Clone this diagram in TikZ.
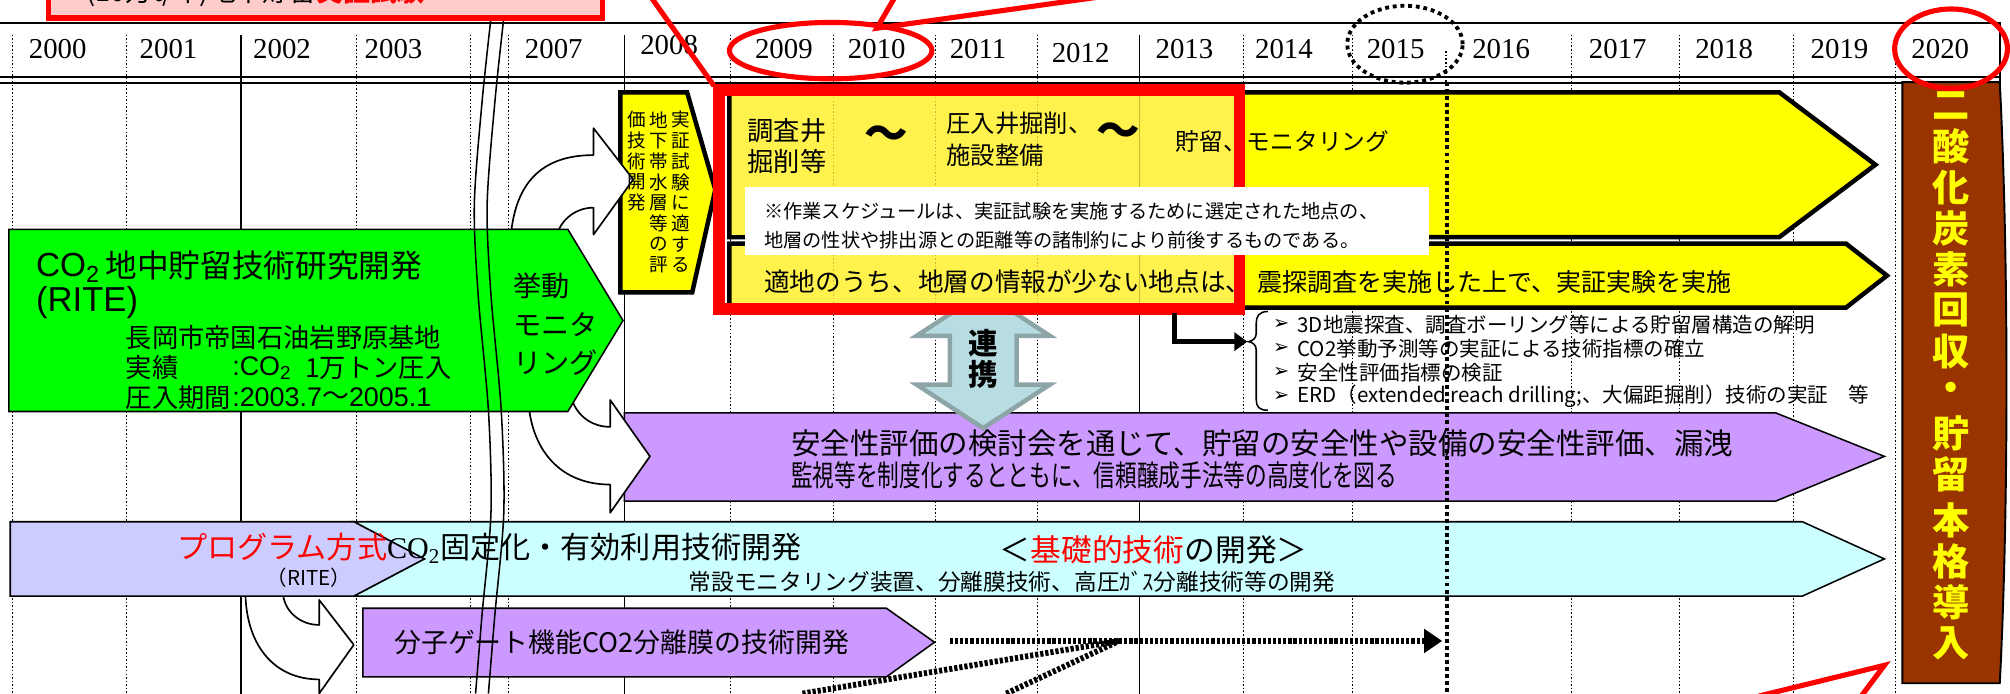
\documentclass[tikz,border=0pt]{standalone}
\usepackage{fontspec}
\usepackage{graphicx}
\newfontfamily\jp{Noto Sans CJK JP}
\newfontfamily\tms{Liberation Serif}
\newfontfamily\arl{Liberation Sans}
\newfontfamily\djv{DejaVu Sans}
\usetikzlibrary{arrows.meta}
\definecolor{ylw}{HTML}{FFFF00}
\definecolor{ylwin}{HTML}{FFF24D}
\definecolor{grn}{HTML}{00FF00}
\definecolor{purp}{HTML}{CC99FF}
\definecolor{cyn}{HTML}{CCFFFF}
\definecolor{lav}{HTML}{CCCCFF}
\definecolor{brn}{HTML}{993300}
\definecolor{pnk}{HTML}{FFCCCC}
\definecolor{rd}{HTML}{FF0000}
\definecolor{rkfill}{HTML}{B7DDE3}
\definecolor{rkline}{HTML}{8EA5A7}
\definecolor{gridin}{HTML}{C8B932}
\newcommand\fsz[2]{\fontsize{#1}{#2}\selectfont}
\begin{document}
\begin{tikzpicture}[x=1pt,y=-1pt,
 gridd/.style={line width=0.8pt, dash pattern=on 1.2pt off 1.6pt},
 grids/.style={line width=1pt},
 yr/.style={font={\tms\fsz{22.5}{25}}, inner sep=0pt},
 jt/.style={inner sep=0pt},
 box/.style={line width=1.2pt, draw=black},
 ybox/.style={line width=3.5pt, draw=black, fill=ylw},
 dotx/.style={line width=4.5pt, dash pattern=on 2.5pt off 1.5pt},
 redl/.style={draw=rd, line width=4pt},
 wa/.style={draw=black, line width=1.3pt, fill=white, line join=round},
]
\useasboundingbox (0,0) rectangle (1568,541);

% grid
\foreach \x in {10,99,278,367,397,570,650,730,809,970,1055,1226,1310,1399,1479}
  \draw[gridd] (\x,27) -- (\x,541);
\foreach \x in {188,487,889} \draw[grids] (\x,27) -- (\x,541);
\draw[gridd] (1128,40) -- (1128,64);

% header
\draw[line width=1.6pt] (0,18) -- (1560,18) -- (1560,64.5);
\draw[line width=1.6pt] (0,60) -- (1560,60);
\draw[line width=1.6pt] (0,64.5) -- (1560,64.5);
\foreach \yv/\xc in {2000/45,2001/131.5,2002/220,2003/307,2007/432,2009/611.5,2010/684,2011/763,2013/924,2014/1001.6,2015/1088.7,2016/1171,2017/1262,2018/1345,2019/1435,2020/1513.6}
  \node[yr] (y\yv) at (\xc,38.5) {\yv};
\node[yr] (y2008) at (522,35.5) {2008};
\node[yr] (y2012) at (843,41) {2012};

% purple big arrow
\draw[box, fill=purp] (487,322) -- (1385,322) -- (1470,356) -- (1385,391) -- (487,391) -- cycle;

% renkei double arrow
\draw[line width=3.5pt, draw=rkline, fill=rkfill, line join=miter] (767,228) -- (819,262) -- (793,262) -- (793,300) -- (819,300) -- (767,334) -- (715,300) -- (741,300) -- (741,262) -- (715,262) -- cycle;

% small yellow box
\draw[ybox] (484,72) -- (536,72) -- (558,148) -- (540,228) -- (484,228) -- cycle;

% upper curved arrow
\draw[wa] (399,179) .. controls (404,140) and (425,121) .. (463,121) -- (463,100) -- (494,140) -- (463,183) -- (463,162) .. controls (450,162) and (440,170) .. (436,179) -- cycle;

% yellow arrows
\draw[ybox] (569,72) -- (1388,72) -- (1463,128.5) -- (1388,185) -- (569,185) -- cycle;
\draw[ybox] (569,190) -- (1440,190) -- (1472,215) -- (1440,240) -- (569,240) -- cycle;

% inside of red frame
\begin{scope}
 \clip (565.5,74.5) rectangle (962.5,236.5);
 \fill[ylwin] (571,74) rectangle (970,183.3);
 \fill[ylwin] (571,191.7) rectangle (970,238.3);
 \foreach \x in {650,730,809} \draw[gridd, draw=gridin] (\x,70) -- (\x,245);
 \draw[line width=1pt, draw=gridin] (889,70) -- (889,245);
\end{scope}
\draw[draw=rd, line width=9pt] (561,70) rectangle (967,241);

% white note box
\fill[white] (581,146) rectangle (1115,199);
\node[jt, anchor=west, font={\jp\fsz{15}{18}}] (note1) at (596,165) {※作業スケジュールは、実証試験を実施するために選定された地点の、};
\node[jt, anchor=west, font={\jp\fsz{15}{18}}] (note2) at (596,187) {地層の性状や排出源との距離等の諸制約により前後するものである。};

% lower curved arrow (green -> purple)
\draw[wa] (413,321) .. controls (418,355) and (440,378) .. (476,378) -- (476,400) -- (507,356) -- (476,312) -- (476,333) .. controls (463,333) and (452,326) .. (447,314) -- cycle;

% green arrow
\draw[box, fill=grn] (7,179) -- (443,179) -- (486,250) -- (443,321) -- (7,321) -- cycle;

% curved arrow cyan -> small purple
\draw[wa] (191.5,465) .. controls (193,505) and (215,530) .. (249,530) -- (249,541) -- (276,503) -- (249,468) -- (249,487.5) .. controls (235,487.5) and (223,478) .. (221,465) -- cycle;

% cyan + lavender arrow
\draw[box, fill=cyn] (276,407) -- (1406,407) -- (1470,436) -- (1406,465) -- (276,465) -- (331,436) -- cycle;
\draw[box, fill=lav] (8,407) -- (276,407) -- (331,436) -- (276,465) -- (8,465) -- cycle;

% small purple arrow
\draw[box, fill=purp] (283,474.5) -- (691.5,474.5) -- (729,501) -- (691.5,528) -- (283,528) -- cycle;

% brown box
\draw[line width=1.5pt, fill=brn] (1484,64) -- (1560,64) .. controls (1567,200) and (1567,400) .. (1560,533) -- (1484,533) -- cycle;

% ---- texts ----
\foreach \c [count=\i] in {実,証,試,験,に,適,す,る}
  \node[jt, font={\jp\fsz{14.5}{16}}] (va\i) at (531,{93.5+16.2*(\i-1)}) {\c};
\foreach \c [count=\i] in {地,下,帯,水,層,等,の,評}
  \node[jt, font={\jp\fsz{14.5}{16}}] (vb\i) at (514,{93.5+16.2*(\i-1)}) {\c};
\foreach \c [count=\i] in {価,技,術,開,発}
  \node[jt, font={\jp\fsz{14.5}{16}}] (vc\i) at (497,{93.5+16.2*(\i-1)}) {\c};

\node[jt, font={\jp\fsz{20.5}{24}}] (t1a) at (614,102) {調査井};
\node[jt, font={\jp\fsz{20.5}{24}}] (t1b) at (614,126) {掘削等};
\node[jt, font={\jp\bfseries\fsz{34}{36}}] (til1) at (691,107) {～};
\node[jt, anchor=west, font={\jp\fsz{19}{22}}] (t2a) at (738,96) {圧入井掘削、};
\node[jt, anchor=west, font={\jp\fsz{19}{22}}] (t2b) at (738,121) {施設整備};
\node[jt, font={\jp\bfseries\fsz{34}{36}}] (til2) at (872,105) {～};
\node[jt, anchor=west, font={\jp\fsz{18.5}{22}}] (t3) at (917,110) {貯留、モニタリング};
\node[jt, anchor=west, font={\jp\fsz{20}{22}}] (t4a) at (596,220) {適地のうち、地層の情報が少ない地点は、};
\node[jt, anchor=west, font={\jp\fsz{19.5}{22}}] (t4b) at (981,220) {震探調査を実施した上で、実証実験を実施};

\node[jt, font={\jp\bfseries\fsz{23}{24}}] (rk1) at (767,268) {連};
\node[jt, font={\jp\bfseries\fsz{23}{24}}] (rk2) at (767,292) {携};

% green texts
\node[jt, anchor=west, font={\arl\fsz{26}{28}}] (g1a) at (28,209) {CO\textsubscript{2}};
\node[jt, anchor=west, font={\jp\fsz{24.7}{28}}] (g1b) at (82,207) {地中貯留技術研究開発};
\node[jt, anchor=west, font={\arl\fsz{27}{28}}] (g2) at (28,236) {(RITE)};
\node[jt, anchor=west, font={\jp\fsz{20.5}{24}}] (g3) at (98,263) {長岡市帝国石油岩野原基地};
\node[jt, anchor=west, font={\jp\fsz{20.5}{24}}] (g4a) at (98,287) {実績};
\node[jt, anchor=west, font={\arl\fsz{21}{24}}] (g4b) at (181,287) {:CO\textsubscript{2}};
\node[jt, anchor=west, font={\jp\fsz{20.5}{24}}] (g4c) at (238,287) {1万トン圧入};
\node[jt, anchor=west, font={\jp\fsz{20.5}{24}}] (g5a) at (98,310) {圧入期間};
\node[jt, anchor=west, font={\arl\fsz{21}{24}}] (g5b) at (181,310) {:2003.7\raisebox{1pt}{\jp ～}2005.1};
\node[jt, anchor=west, align=left, font={\jp\fsz{22}{30}}] (g6) at (400,253) {挙動\\モニタ\\リング};

% purple big texts
\node[jt, anchor=west, font={\jp\fsz{23}{26}}] (p1) at (617,346) {安全性評価の検討会を通じて、貯留の安全性や設備の安全性評価、漏洩};
\node[jt, anchor=west, font={\jp\fsz{23}{26}}] (p2) at (617,371) {\scalebox{0.735}[1]{監視等を制度化するとともに、信頼醸成手法等の高度化を図る}};

% cyan texts
\node[jt, anchor=west, font={\jp\fsz{23.5}{26}}] (c1) at (138,428) {{\color{rd}プログラム方式}{\tms CO\textsubscript{2}}固定化・有効利用技術開発};
\node[jt, font={\jp\fsz{16}{18}}] (c2) at (241,451) {（RITE）};
\node[jt, font={\jp\fsz{24}{28}}] (c3) at (900,429) {＜{\color{rd}基礎的技術}の開発＞};
\node[jt, anchor=west, font={\jp\fsz{17.7}{20}}] (c4) at (537,454) {常設モニタリング装置、分離膜技術、高圧ｶﾞｽ分離技術等の開発};

\node[jt, font={\jp\fsz{21}{24}}] (sp) at (485,501) {分子ゲート機能CO2分離膜の技術開発};

% brown vertical text
\foreach \c/\yy [count=\i] in {二/82,酸/114,化/146,炭/178,素/210,回/242,収/274,・/306,貯/338,留/370,本/406,格/438,導/470,入/502}
  \node[jt, text=ylw, font={\jp\bfseries\fsz{29}{30}}] (bb\i) at (1522,\yy) {\c};

% ---- overlays ----
\draw[line width=1.2pt] plot[smooth] coordinates {(383,14) (376,80) (370,160) (373,230) (381,320) (383,400) (376,480) (371,541)};
\draw[line width=1.2pt] plot[smooth] coordinates {(393,14) (386,80) (380,160) (383,230) (391,320) (393,400) (386,480) (381,541)};

\draw[line width=3pt, dash pattern=on 3pt off 2.5pt] (1129,64) -- (1129,541);
\draw[line width=3pt, dash pattern=on 3pt off 3pt] (1096,34.5) ellipse [x radius=45pt, y radius=30pt];

\coordinate (hS) at (741,500);
\coordinate (hJ) at (873,500);
\coordinate (hE) at (1125,500);
\coordinate (d1) at (626,541);
\coordinate (d2) at (785,541);
\draw[dotx, -{Triangle[length=14pt,width=18pt]}] (hS) -- (hE);
\draw[dotx] (d1) -- (hJ);
\draw[dotx] (d2) -- (hJ);

\draw[redl] (648,39.5) ellipse [x radius=79pt, y radius=22pt];
\draw[redl] (1522,38) ellipse [x radius=44pt, y radius=31pt];
\coordinate (eTop) at (684,22);
\coordinate (rA) at (698,-2);
\coordinate (rB) at (855,-2);
\draw[redl] (rA) -- (eTop) -- (rB);
\coordinate (rC) at (508,-2);
\coordinate (rbC) at (557,67);
\draw[redl] (rC) -- (rbC);
\coordinate (bTip) at (1470,519);
\coordinate (bL) at (1372,543);
\coordinate (bR) at (1452,543);
\draw[redl] (bL) -- (bTip) -- (bR);

\draw[draw=rd, line width=4pt, fill=pnk] (38,-20) rectangle (470,14);
\node[jt, anchor=base west, font={\jp\fsz{21}{24}}] (pk) at (67,1) {(10万t/年)地中貯留{\color{rd}\bfseries 実証試験}};

\coordinate (lTop) at (916,244);
\coordinate (lCorner) at (916,266.5);
\coordinate (lEnd) at (973,266.5);
\draw[line width=4pt, -{Triangle[length=10pt,width=14pt]}] (lTop) -- (lCorner) -- (lEnd);
\draw[line width=1.2pt] (989,243) .. controls (982,243) and (980,247) .. (980,252) -- (980,260) .. controls (980,264) and (977,266) .. (974,266.5) .. controls (977,267) and (980,269) .. (980,273) -- (980,312) .. controls (980,317) and (982,320) .. (989,320);

\foreach \yy/\tx [count=\i] in {253/3D地震探査、調査ボーリング等による貯留層構造の解明,272/CO2挙動予測等の実証による技術指標の確立,290.5/安全性評価指標の検証,309/ERD（extended reach drilling;、大偏距掘削）技術の実証　等}
{
  \node[jt, anchor=west, font={\djv\fsz{15}{16}}] (lb\i) at (993,\yy) {➢};
  \node[jt, anchor=west, font={\jp\fsz{16}{18}}] (li\i) at (1012,\yy) {\tx};
}
\end{tikzpicture}
\end{document}
